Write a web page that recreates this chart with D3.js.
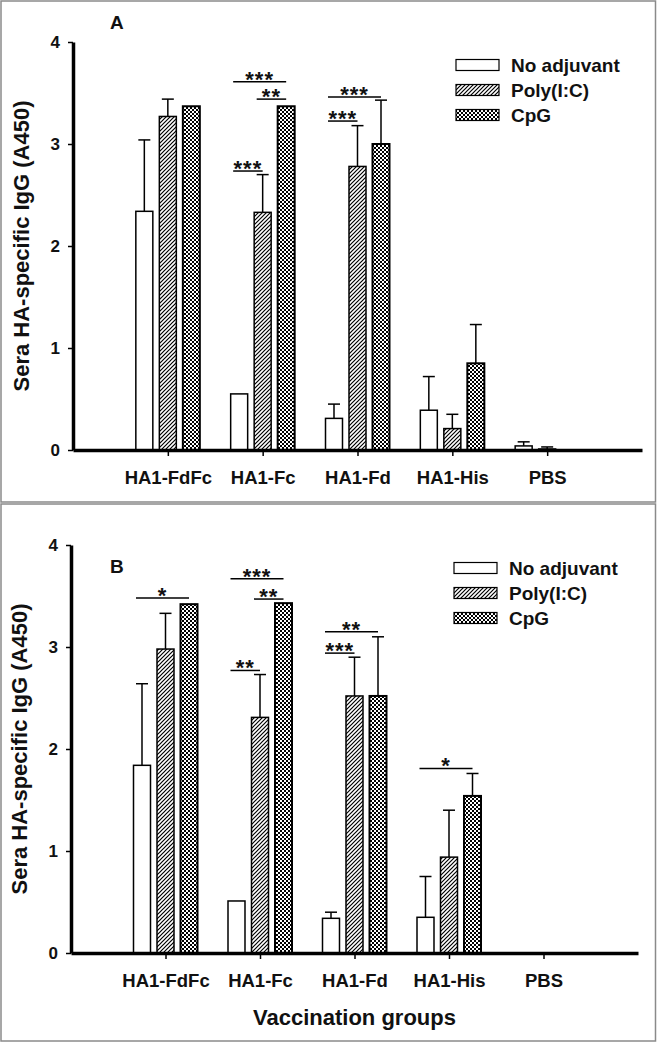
<!DOCTYPE html>
<html>
<head>
<meta charset="utf-8">
<script src="https://cdn.jsdelivr.net/npm/d3@7"></script>
<style>
  body { margin: 0; background: #fff; }
  text { font-family: "Liberation Sans", Arial, sans-serif; font-weight: bold; fill: #111; }
</style>
</head>
<body>
<div id="chart"></div>
<script>
// groups and adjuvants
const groups = ['HA1-FdFc', 'HA1-Fc', 'HA1-Fd', 'HA1-His', 'PBS']
const adjuvants = ['No adjuvant', 'Poly(I:C)', 'CpG']
const yTicks = [0, 1, 2, 3, 4]

// panel A means and error (upper SD)
const noAdjA = [2.34, 0.55, 0.31, 0.39, 0.04]
const polyA = [3.27, 2.33, 2.78, 0.21, 0.01]
const cpgA = [3.37, 3.37, 3.00, 0.85, 0]
const noAdjErrA = [0.70, 0, 0.14, 0.33, 0.04]
const polyErrA = [0.17, 0.37, 0.40, 0.14, 0.02]
const cpgErrA = [0, 0, 0.43, 0.38, 0]

// panel B
const noAdjB = [1.84, 0.51, 0.34, 0.35, 0]
const polyB = [2.98, 2.31, 2.52, 0.94, 0]
const cpgB = [3.42, 3.43, 2.52, 1.54, 0]
const noAdjErrB = [0.80, 0, 0.06, 0.40, 0]
const polyErrB = [0.35, 0.42, 0.38, 0.46, 0]
const cpgErrB = [0, 0, 0.58, 0.22, 0]

// significance brackets: group index, bar from, bar to, level (A450), stars
const sigA = [
  {g: 1, from: 0, to: 2, level: 3.61, label: '***'},
  {g: 1, from: 1, to: 2, level: 3.44, label: '**'},
  {g: 1, from: 0, to: 1, level: 2.735, label: '***'},
  {g: 2, from: 0, to: 2, level: 3.46, label: '***'},
  {g: 2, from: 0, to: 1, level: 3.225, label: '***'},
]
const sigB = [
  {g: 0, from: 0, to: 2, level: 3.48, label: '*'},
  {g: 1, from: 0, to: 2, level: 3.67, label: '***'},
  {g: 1, from: 1, to: 2, level: 3.47, label: '**'},
  {g: 1, from: 0, to: 1, level: 2.77, label: '**'},
  {g: 2, from: 0, to: 2, level: 3.15, label: '**'},
  {g: 2, from: 0, to: 1, level: 2.94, label: '***'},
  {g: 3, from: 0, to: 2, level: 1.81, label: '*'},
]

let svg = d3.select('#chart')
  .append('svg')
  .attr('width', 657)
  .attr('height', 1043)

// patterns
let defs = svg.append('defs')
defs.append('pattern')
  .attr('id', 'hatch')
  .attr('patternUnits', 'userSpaceOnUse')
  .attr('width', 4).attr('height', 4)
  .append('path')
  .attr('d', 'M-1,1 l2,-2 M0,4 l4,-4 M3,5 l2,-2')
  .attr('stroke', '#000').attr('stroke-width', 1.2)

let cross = defs.append('pattern')
  .attr('id', 'cross')
  .attr('patternUnits', 'userSpaceOnUse')
  .attr('width', 4).attr('height', 4)
cross.append('rect').attr('width', 4).attr('height', 4).attr('fill', '#fff')
cross.append('path')
  .attr('d', 'M-1,1 l2,-2 M0,4 l4,-4 M3,5 l2,-2 M-1,3 l2,2 M0,0 l4,4 M3,-1 l2,2')
  .attr('stroke', '#000').attr('stroke-width', 1)

const fills = ['#fff', 'url(#hatch)', 'url(#cross)']
const strokeW = [1.5, 1.5, 2]

function drawPanel(cfg) {
  // border
  svg.append('rect')
    .attr('x', 1).attr('y', cfg.boxTop)
    .attr('width', 654.5).attr('height', cfg.boxHeight)
    .attr('fill', 'none').attr('stroke', '#8a8a8a').attr('stroke-width', 1.5)

  let g = svg.append('g').attr('transform', `translate(${cfg.left},${cfg.top})`)
  let x = d3.scaleLinear().domain([0, groups.length + 1]).range([0, cfg.width])
  let y = d3.scaleLinear().domain([0, 4]).range([cfg.height, 0])
  let inner = d3.scaleBand().domain(adjuvants).range([-32, 32]).paddingInner(0.277)
  let center = (i, j) => x(i + 1) + inner(adjuvants[j]) + inner.bandwidth() / 2

  let rows = []
  groups.forEach((grp, i) => {
    adjuvants.forEach((a, j) => {
      rows.push({i: i, j: j, v: cfg.values[j][i], e: cfg.errors[j][i]})
    })
  })

  // error bars first
  let err = g.selectAll('.err').data(rows.filter(d => d.e > 0)).enter().append('g')
  err.append('line')
    .attr('x1', d => center(d.i, d.j)).attr('x2', d => center(d.i, d.j))
    .attr('y1', d => y(d.v)).attr('y2', d => y(d.v + d.e))
    .attr('stroke', '#000').attr('stroke-width', 1.5)
  err.append('line')
    .attr('x1', d => center(d.i, d.j) - 6).attr('x2', d => center(d.i, d.j) + 6)
    .attr('y1', d => y(d.v + d.e)).attr('y2', d => y(d.v + d.e))
    .attr('stroke', '#000').attr('stroke-width', 1.5)

  g.selectAll('.bar').data(rows.filter(d => d.v > 0)).enter().append('rect')
    .attr('x', d => x(d.i + 1) + inner(adjuvants[d.j]))
    .attr('y', d => y(d.v))
    .attr('width', inner.bandwidth())
    .attr('height', d => cfg.height - y(d.v))
    .attr('fill', d => fills[d.j])
    .attr('stroke', '#000')
    .attr('stroke-width', d => strokeW[d.j])

  // significance
  let sig = g.selectAll('.sig').data(cfg.sig).enter().append('g')
  sig.append('line')
    .attr('x1', d => center(d.g, d.from) - 6).attr('x2', d => center(d.g, d.to))
    .attr('y1', d => y(d.level)).attr('y2', d => y(d.level))
    .attr('stroke', '#000').attr('stroke-width', 1.5)
  sig.append('text')
    .attr('x', d => (center(d.g, d.from) - 6 + center(d.g, d.to)) / 2)
    .attr('y', d => y(d.level) + 5)
    .attr('text-anchor', 'middle')
    .style('font-size', '22px')
    .style('letter-spacing', '1px')
    .text(d => d.label)

  // axes
  let yAxis = g.append('g')
    .call(d3.axisLeft(y).tickValues(yTicks).tickFormat(d3.format('d'))
      .tickSize(5).tickPadding(8).tickSizeOuter(0))
  let xAxis = g.append('g')
    .attr('transform', `translate(0,${cfg.height})`)
    .call(d3.axisBottom(x).tickValues([1, 2, 3, 4, 5]).tickFormat(d => groups[d - 1])
      .tickSize(6).tickPadding(14.4).tickSizeOuter(0))
  yAxis.select('.domain').attr('stroke', '#000').attr('stroke-width', 3.5)
  xAxis.select('.domain').attr('stroke', '#000').attr('stroke-width', 3.5)
  g.selectAll('.tick line').attr('stroke', '#000').attr('stroke-width', 1.5)
  yAxis.selectAll('text').style('font-size', '17px').attr('fill', '#111')
  xAxis.selectAll('text').style('font-size', '18.5px').attr('fill', '#111')

  g.append('text')
    .attr('transform', `translate(-44,${cfg.height / 2}) rotate(-90)`)
    .attr('text-anchor', 'middle')
    .style('font-size', '22px')
    .text('Sera HA-specific IgG (A450)')

  if (cfg.title) {
    g.append('text')
      .attr('x', cfg.width / 2).attr('y', cfg.height + 72)
      .attr('text-anchor', 'middle')
      .style('font-size', '22px')
      .text(cfg.title)
  }

  // legend
  let legend = g.selectAll('.legend').data(adjuvants).enter().append('g')
    .attr('transform', (d, j) => `translate(383,${23 + j * 25})`)
  legend.append('rect')
    .attr('x', 0).attr('y', -5.5).attr('width', 43).attr('height', 11)
    .attr('fill', (d, j) => fills[j]).attr('stroke', '#000').attr('stroke-width', 1.2)
  legend.append('text')
    .attr('x', 55).attr('y', 7)
    .style('font-size', '19px')
    .text(d => d)

  svg.append('text')
    .attr('x', 110).attr('y', cfg.labelY)
    .style('font-size', '19px')
    .text(cfg.label)
}

drawPanel({
  boxTop: 1, boxHeight: 501,
  left: 73, top: 42, width: 569, height: 408,
  values: [noAdjA, polyA, cpgA], errors: [noAdjErrA, polyErrA, cpgErrA],
  sig: sigA, label: 'A', labelY: 29
})

drawPanel({
  boxTop: 504, boxHeight: 537,
  left: 71, top: 545, width: 567, height: 408,
  values: [noAdjB, polyB, cpgB], errors: [noAdjErrB, polyErrB, cpgErrB],
  sig: sigB, label: 'B', labelY: 573, title: 'Vaccination groups'
})
</script>
</body>
</html>
